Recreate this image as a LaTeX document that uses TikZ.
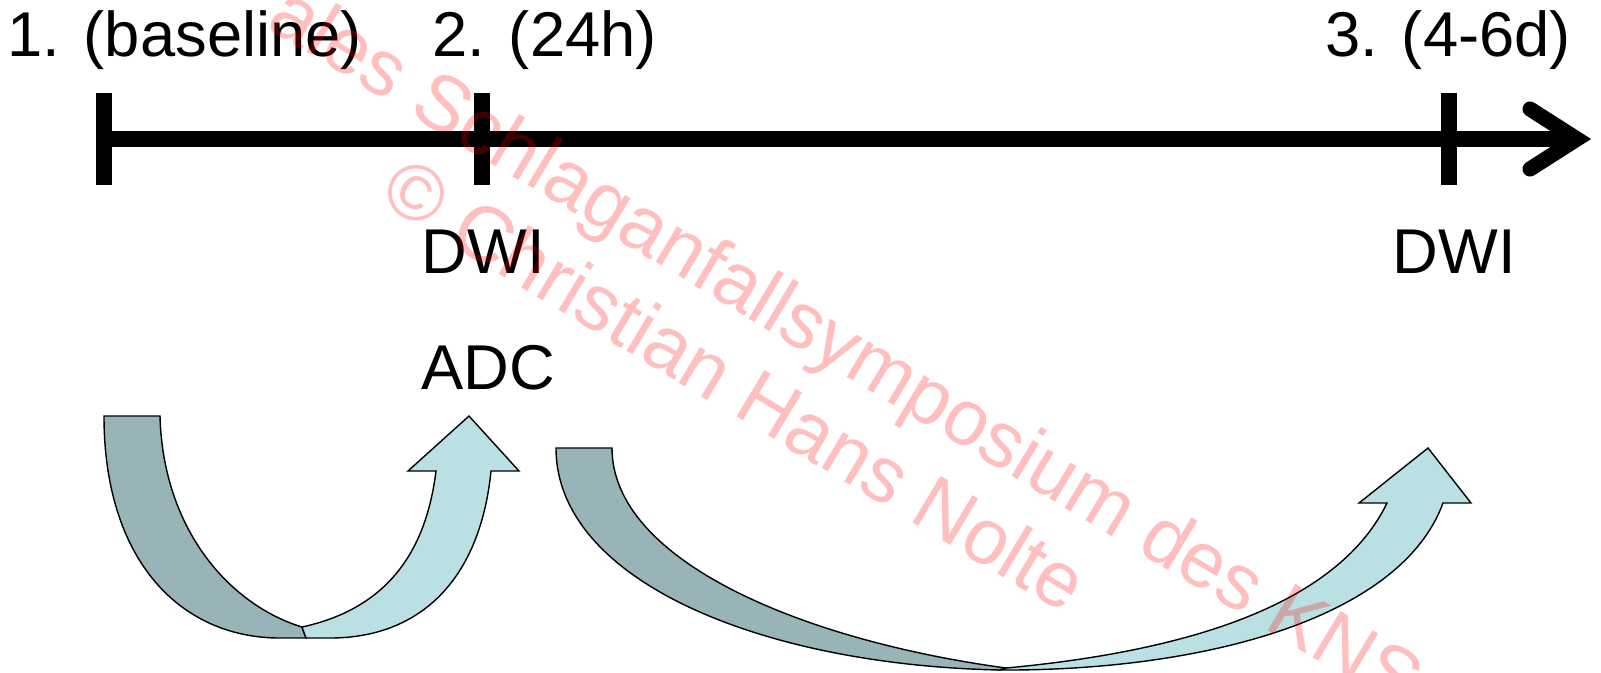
\documentclass[tikz,border=0pt]{standalone}
\usepackage{fontspec}
\setmainfont{Liberation Sans}
\usepackage{tikz}
\definecolor{dusk}{RGB}{152, 180, 184}
\definecolor{pale}{RGB}{186, 224, 228}
\tikzset{
  stage/.style={anchor=base west, inner sep=0pt, font=\fontsize{18}{20}\selectfont},
  band/.style={draw=black, line width=0.4pt, line join=miter},
  tickmark/.style={line width=4.3pt},
  stamp/.style={anchor=base west, inner sep=0pt, rotate=-31, text=red, text opacity=0.25,
    font=\fontsize{22.4}{26}\selectfont}
}

\begin{document}
\begin{tikzpicture}[x=0.01cm, y=-0.01cm]

  \useasboundingbox (0, 0) rectangle (1601, 672);

  \coordinate (t1) at (104, 139);
  \coordinate (t2) at (482, 139);
  \coordinate (t3) at (1449, 139);
  \coordinate (tip) at (1577, 139);

  \draw[line width=4.6pt] (t1) -- (tip);
  \foreach \t in {t1, t2, t3} {
    \draw[tickmark] (\t) ++(0, -46) -- ++(0, 92);
  }
  \draw[line width=4.3pt, line cap=round, line join=miter]
    (1530, 109) -- (tip) -- (1530, 169);

  \node[stage] (stage1) at (7, 56) {1. (baseline)};
  \node[stage] (stage2) at (432, 56) {2. (24h)};
  \node[stage] (stage3) at (1325, 56) {3. (4-6d)};
  \node[stage] (dwi2) at (421, 273) {DWI};
  \node[stage] (adc2) at (421, 389) {ADC};
  \node[stage] (dwi3) at (1392, 273) {DWI};

  \filldraw[band, fill=dusk] (104, 416) -- (160, 416)
    .. controls (163, 530) and (230, 605) .. (302, 627) -- (306, 638) -- (280, 638)
    .. controls (180, 638) and (104, 560) .. (104, 416) -- cycle;
  \filldraw[band, fill=pale] (302, 627)
    .. controls (380, 610) and (425, 560) .. (436, 471)
    -- (408, 471) -- (469, 416) -- (519, 471) -- (491, 471)
    .. controls (480, 580) and (420, 638) .. (330, 638) -- (306, 638) -- cycle;

  \filldraw[band, fill=dusk] (556, 448) -- (612, 448)
    .. controls (612, 560) and (800, 640) .. (1006, 668) -- (1000, 670)
    .. controls (760, 665) and (556, 580) .. (556, 448) -- cycle;
  \filldraw[band, fill=pale] (1006, 668)
    .. controls (1200, 650) and (1340, 600) .. (1387, 503)
    -- (1359, 503) -- (1428, 448) -- (1471, 503) -- (1443, 503)
    .. controls (1400, 620) and (1200, 671) .. (1000, 670) -- cycle;

  \begin{scope}
    \clip (0, 0) rectangle (1601, 672);
    \node[stamp] (stamp1) at (264, 27) {ales Schlaganfallsymposium des KNS};
    \node[stamp] (stamp2) at (377, 201) {© Christian Hans Nolte};
  \end{scope}

\end{tikzpicture}
\end{document}
